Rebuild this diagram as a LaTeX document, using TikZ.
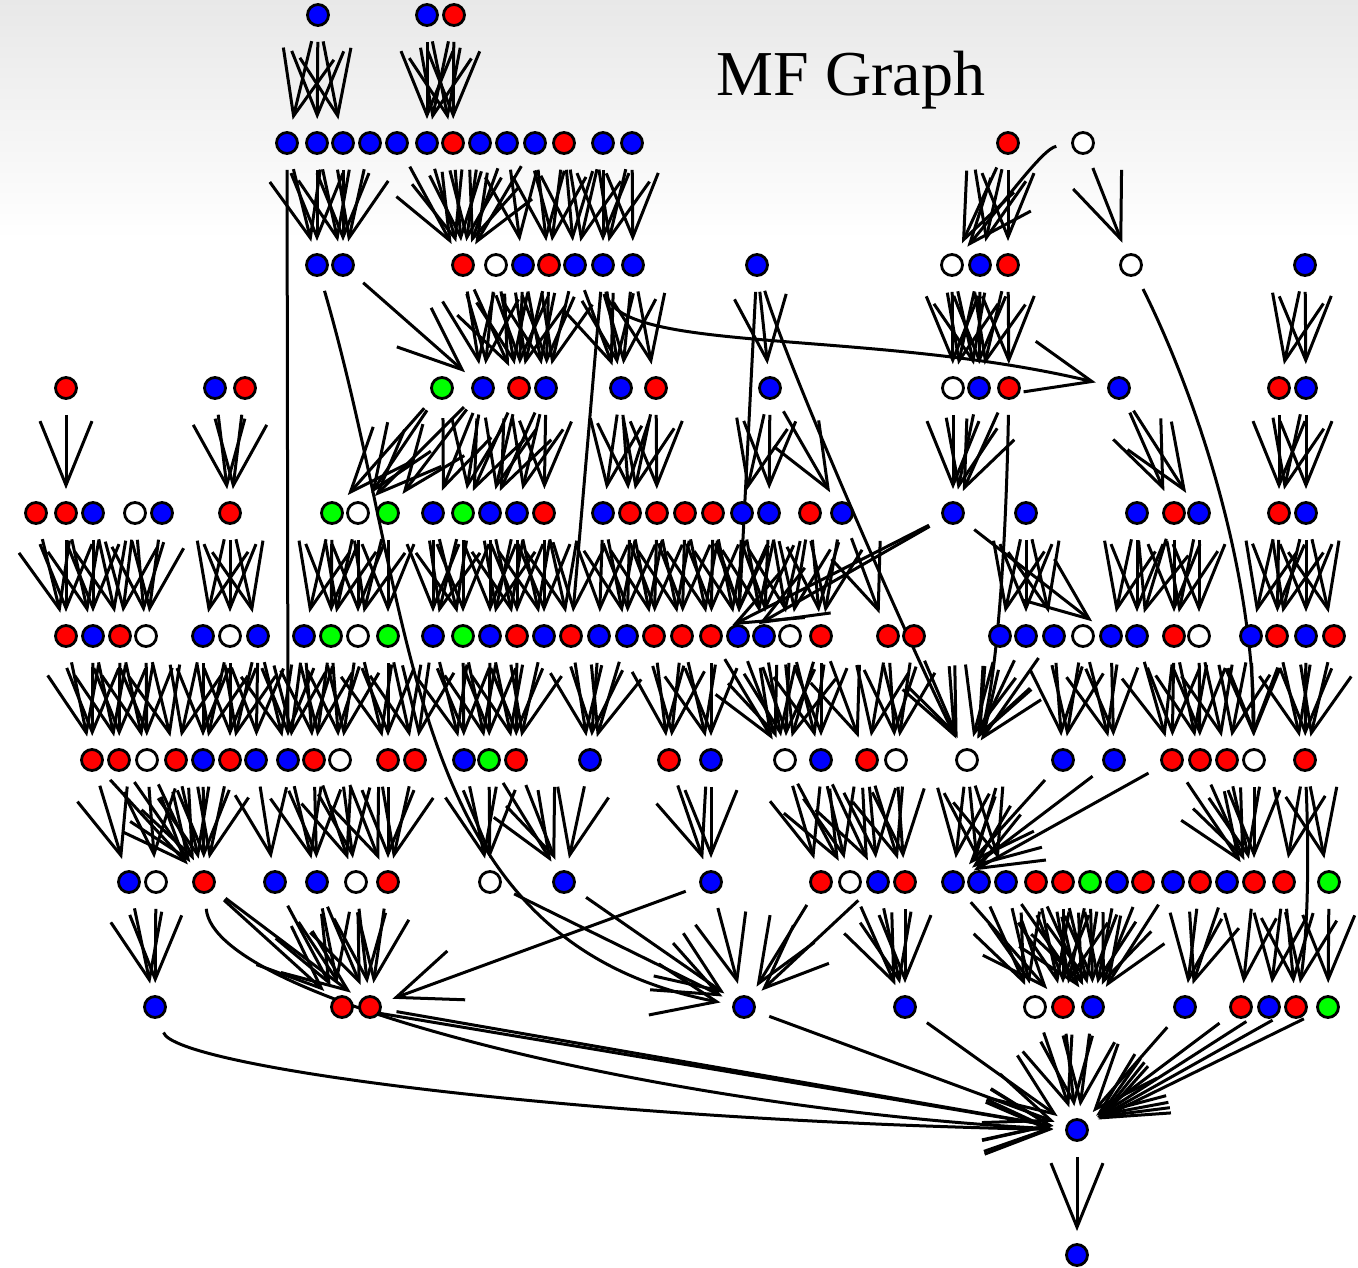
\documentclass[tikz,border=0pt]{standalone}
\usepackage{fontspec}
\setmainfont{Liberation Serif}
\usetikzlibrary{arrows.meta}
\definecolor{nb}{RGB}{0,0,255}
\definecolor{nr}{RGB}{255,0,0}
\definecolor{ng}{RGB}{0,255,0}
\pgfdeclarelayer{back}
\pgfdeclarelayer{wires}
\pgfsetlayers{back,wires,main}

\begin{document}
\begin{tikzpicture}[x=1pt,y=-1pt,
  vtx/.style={circle, draw=black, line width=2.8pt, minimum size=21pt, inner sep=0pt},
  arc/.style={draw, line width=3pt, shorten <=15pt, shorten >=12pt, -{Straight Barb[length=64pt,width=52pt]}},
  title/.style={font=\fontsize{64}{70}\selectfont}
]
\useasboundingbox (0,0) rectangle (1358,1268);
\begin{pgfonlayer}{back}
\shade[top color=black!9, bottom color=white] (0,0) rectangle (1358,240);
\end{pgfonlayer}
\node[title] (title) at (851,80) {MF Graph};

\foreach \xx/\cc in {318/nb,427/nb,454/nr}
  \node[vtx,fill=\cc] (r0-\xx) at (\xx,15) {};
\foreach \xx/\cc in {287/nb,317/nb,343/nb,370/nb,397/nb,427/nb,453/nr,480/nb,507/nb,535/nb,564/nr,603/nb,632/nb,1008/nr,1083/white}
  \node[vtx,fill=\cc] (r1-\xx) at (\xx,143) {};
\foreach \xx/\cc in {317/nb,343/nb,463/nr,496/white,523/nb,549/nr,575/nb,603/nb,633/nb,757/nb,952/white,980/nb,1008/nr,1131/white,1305/nb}
  \node[vtx,fill=\cc] (r2-\xx) at (\xx,265) {};
\foreach \xx/\cc in {66/nr,215/nb,245/nr,442/ng,483/nb,519/nr,546/nb,621/nb,656/nr,770/nb,953/white,979/nb,1009/nr,1119/nb,1279/nr,1306/nb}
  \node[vtx,fill=\cc] (r3-\xx) at (\xx,388) {};
\foreach \xx/\cc in {36/nr,66/nr,93/nb,135/white,162/nb,230/nr,332/ng,358/white,388/ng,433/nb,463/ng,490/nb,517/nb,544/nr,603/nb,630/nr,657/nr,685/nr,713/nr,742/nb,769/nb,810/nr,842/nb,953/nb,1026/nb,1137/nb,1174/nr,1199/nb,1279/nr,1306/nb}
  \node[vtx,fill=\cc] (r4-\xx) at (\xx,513) {};
\foreach \xx/\cc in {66/nr,93/nb,120/nr,146/white,203/nb,230/white,258/nb,304/nb,331/ng,358/white,388/ng,433/nb,463/ng,490/nb,517/nr,544/nb,571/nr,599/nb,627/nb,654/nr,682/nr,711/nr,738/nb,764/nb,790/white,821/nr,888/nr,914/nr,1000/nb,1026/nb,1054/nb,1083/white,1111/nb,1137/nb,1174/nr,1199/white,1251/nb,1277/nr,1306/nb,1334/nr}
  \node[vtx,fill=\cc] (r5-\xx) at (\xx,636) {};
\foreach \xx/\cc in {92/nr,119/nr,147/white,176/nr,203/nb,230/nr,256/nb,288/nb,314/nr,340/white,388/nr,415/nr,464/nb,489/ng,516/nr,590/nb,669/nr,711/nb,785/white,821/nb,867/nr,896/white,967/white,1063/nb,1114/nb,1172/nr,1200/nr,1227/nr,1254/white,1305/nr}
  \node[vtx,fill=\cc] (r6-\xx) at (\xx,760) {};
\foreach \xx/\cc in {129/nb,156/white,204/nr,275/nb,317/nb,356/white,388/nr,490/white,564/nb,711/nb,821/nr,850/white,878/nb,905/nr,953/nb,979/nb,1006/nb,1036/nr,1063/nr,1090/ng,1117/nb,1143/nr,1173/nb,1200/nr,1227/nb,1254/nr,1284/nr,1329/ng}
  \node[vtx,fill=\cc] (r7-\xx) at (\xx,882) {};
\foreach \xx/\cc in {155/nb,342/nr,370/nr,744/nb,905/nb,1035/white,1063/nr,1093/nb,1185/nb,1241/nr,1269/nb,1296/nr,1328/ng}
  \node[vtx,fill=\cc] (r8-\xx) at (\xx,1007) {};
\node[vtx,fill=nb] (r9-1077) at (1077,1130) {};
\node[vtx,fill=nb] (r10-1077) at (1077,1255) {};

\begin{pgfonlayer}{wires}
\foreach \a/\b in {r0-318/r1-287,r0-318/r1-317,r0-318/r1-343,r0-427/r1-427,r0-427/r1-453,r0-454/r1-427,r0-454/r1-453,
  r1-287/r2-317,r1-317/r2-317,r1-317/r2-343,r1-343/r2-343,r1-370/r2-343,r1-397/r2-463,r1-427/r2-463,r1-453/r2-463,r1-480/r2-463,r1-507/r2-463,r1-535/r2-463,r1-507/r2-523,r1-535/r2-549,r1-564/r2-549,r1-564/r2-575,r1-603/r2-575,r1-603/r2-603,r1-632/r2-603,r1-632/r2-633,r1-1008/r2-952,r1-1008/r2-980,r1-1008/r2-1008,r1-1083/r2-1131,
  r2-343/r3-483,r2-463/r3-483,r2-463/r3-519,r2-496/r3-483,r2-496/r3-519,r2-523/r3-519,r2-523/r3-546,r2-549/r3-546,r2-549/r3-519,r2-575/r3-546,r2-575/r3-621,r2-603/r3-621,r2-633/r3-621,r2-633/r3-656,r2-757/r3-770,r2-952/r3-953,r2-952/r3-979,r2-980/r3-953,r2-980/r3-979,r2-1008/r3-979,r2-1008/r3-1009,r2-1305/r3-1279,r2-1305/r3-1306}
  \draw[arc] (\a) -- (\b);
\foreach \a/\b in {r3-66/r4-66,r3-215/r4-230,r3-245/r4-230,r3-442/r4-332,r3-442/r4-358,r3-483/r4-358,r3-483/r4-388,r3-483/r4-433,r3-483/r4-463,r3-519/r4-463,r3-519/r4-490,r3-546/r4-490,r3-546/r4-517,r3-546/r4-544,r3-621/r4-603,r3-621/r4-630,r3-656/r4-630,r3-656/r4-657,r3-770/r4-742,r3-770/r4-769,r3-770/r4-842,r3-953/r4-953,r3-979/r4-953,r3-1009/r4-953,r3-1119/r4-1174,r3-1119/r4-1199,r3-1279/r4-1279,r3-1306/r4-1279,r3-1306/r4-1306,
  r4-36/r5-66,r4-66/r5-66,r4-66/r5-93,r4-93/r5-93,r4-93/r5-120,r4-135/r5-120,r4-135/r5-146,r4-162/r5-146,r4-230/r5-203,r4-230/r5-230,r4-230/r5-258,r4-332/r5-304,r4-332/r5-331,r4-358/r5-331,r4-358/r5-358,r4-388/r5-358,r4-388/r5-388,r4-433/r5-433,r4-433/r5-463,r4-463/r5-433,r4-463/r5-463,r4-490/r5-490,r4-490/r5-517,r4-517/r5-490,r4-517/r5-517,r4-517/r5-544,r4-544/r5-544,r4-544/r5-571,r4-603/r5-599,r4-603/r5-627,r4-630/r5-627,r4-630/r5-654,r4-657/r5-654,r4-657/r5-682,r4-685/r5-682,r4-685/r5-711,r4-713/r5-711,r4-713/r5-738,r4-742/r5-738,r4-742/r5-764,r4-769/r5-764,r4-769/r5-790,r4-810/r5-790,r4-810/r5-821,r4-842/r5-821,r4-842/r5-888,r4-953/r5-711,r4-953/r5-738,r4-953/r5-1111,r4-1026/r5-1000,r4-1026/r5-1026,r4-1026/r5-1054,r4-1137/r5-1111,r4-1137/r5-1137,r4-1174/r5-1137,r4-1174/r5-1174,r4-1199/r5-1174,r4-1199/r5-1199,r4-1279/r5-1251,r4-1279/r5-1277,r4-1306/r5-1277,r4-1306/r5-1306,r4-1306/r5-1334}
  \draw[arc] (\a) -- (\b);
\foreach \a/\b in {r5-66/r6-92,r5-93/r6-92,r5-93/r6-119,r5-120/r6-119,r5-120/r6-147,r5-146/r6-147,r5-146/r6-176,r5-203/r6-176,r5-203/r6-203,r5-230/r6-203,r5-230/r6-230,r5-258/r6-230,r5-258/r6-256,r5-258/r6-288,r5-304/r6-288,r5-304/r6-314,r5-331/r6-314,r5-331/r6-340,r5-358/r6-340,r5-358/r6-388,r5-388/r6-388,r5-388/r6-415,r5-433/r6-415,r5-433/r6-464,r5-463/r6-464,r5-463/r6-489,r5-490/r6-489,r5-490/r6-516,r5-517/r6-516,r5-544/r6-516,r5-571/r6-590,r5-599/r6-590,r5-627/r6-590,r5-654/r6-669,r5-682/r6-669,r5-682/r6-711,r5-711/r6-711,r5-711/r6-785,r5-738/r6-785,r5-764/r6-785,r5-790/r6-785,r5-790/r6-821,r5-821/r6-821,r5-821/r6-785,r5-821/r6-867,r5-888/r6-867,r5-888/r6-896,r5-914/r6-896,r5-914/r6-967,r5-1000/r6-967,r5-1026/r6-967,r5-1054/r6-967,r5-1054/r6-1063,r5-1083/r6-1063,r5-1083/r6-1114,r5-1111/r6-1114,r5-1137/r6-1172,r5-1174/r6-1172,r5-1174/r6-1200,r5-1199/r6-1200,r5-1199/r6-1227,r5-1251/r6-1227,r5-1251/r6-1254,r5-1277/r6-1305,r5-1306/r6-1305,r5-1334/r6-1305}
  \draw[arc] (\a) -- (\b);
\foreach \a/\b in {r6-92/r7-129,r6-92/r7-204,r6-119/r7-204,r6-147/r7-156,r6-147/r7-204,r6-176/r7-204,r6-203/r7-204,r6-230/r7-204,r6-256/r7-275,r6-288/r7-317,r6-314/r7-317,r6-314/r7-356,r6-340/r7-356,r6-340/r7-388,r6-388/r7-388,r6-415/r7-388,r6-464/r7-490,r6-489/r7-490,r6-489/r7-564,r6-516/r7-564,r6-590/r7-564,r6-669/r7-711,r6-711/r7-711,r6-785/r7-821,r6-785/r7-850,r6-821/r7-850,r6-821/r7-878,r6-867/r7-878,r6-867/r7-905,r6-896/r7-905,r6-967/r7-953,r6-967/r7-979,r6-967/r7-1006,r6-1063/r7-953,r6-1114/r7-953,r6-1172/r7-953,r6-1172/r7-1254,r6-1200/r7-1254,r6-1227/r7-1254,r6-1254/r7-1254,r6-1305/r7-1284,r6-1305/r7-1329,
  r7-129/r8-155,r7-156/r8-155,r7-204/r8-342,r7-204/r8-370,r7-275/r8-342,r7-317/r8-342,r7-317/r8-370,r7-356/r8-370,r7-388/r8-370,r7-490/r8-744,r7-564/r8-744,r7-711/r8-744,r7-711/r8-370,r7-821/r8-744,r7-878/r8-744,r7-850/r8-905,r7-878/r8-905,r7-905/r8-905,r7-979/r8-1035,r7-1006/r8-1035,r7-953/r8-1063,r7-1036/r8-1063,r7-1063/r8-1063,r7-1090/r8-1063,r7-1006/r8-1093,r7-1036/r8-1093,r7-1063/r8-1093,r7-1090/r8-1093,r7-1117/r8-1093,r7-1143/r8-1093,r7-1173/r8-1093,r7-1200/r8-1185,r7-1227/r8-1185,r7-1254/r8-1241,r7-1284/r8-1269,r7-1284/r8-1296,r7-1329/r8-1328,
  r8-342/r9-1077,r8-370/r9-1077,r8-744/r9-1077,r8-905/r9-1077,r8-1035/r9-1077,r8-1063/r9-1077,r8-1093/r9-1077,r8-1185/r9-1077,r8-1241/r9-1077,r8-1269/r9-1077,r8-1296/r9-1077,r8-1328/r9-1077,r9-1077/r10-1077}
  \draw[arc] (\a) -- (\b);
\draw[arc] (r1-287) -- (r6-288);
\draw[arc] (r1-1083) .. controls +(-40,5) and +(50,-60) .. (r2-952);
\draw[arc] (r2-317) .. controls (420,620) and (400,940) .. (r8-744);
\draw[arc] (r2-603) .. controls +(10,90) and +(-250,-60) .. (r3-1119);
\draw[arc] (r2-603) -- (r5-571);
\draw[arc] (r2-757) -- (r5-738);
\draw[arc] (r2-757) .. controls +(30,100) and +(-60,-120) .. (r6-967);
\draw[arc] (r2-1131) .. controls +(60,120) and +(0,-200) .. (r6-1254);
\draw[arc] (r3-1009) .. controls +(-5,250) and +(20,-40) .. (r6-967);
\draw[arc] (r6-1305) .. controls +(5,120) and +(10,-60) .. (r8-1296);
\draw[arc] (r8-155) .. controls +(20,60) and +(-500,-10) .. (r9-1077);
\draw[arc] (r7-204) .. controls +(10,120) and +(-400,-20) .. (r9-1077);
\end{pgfonlayer}
\end{tikzpicture}
\end{document}
